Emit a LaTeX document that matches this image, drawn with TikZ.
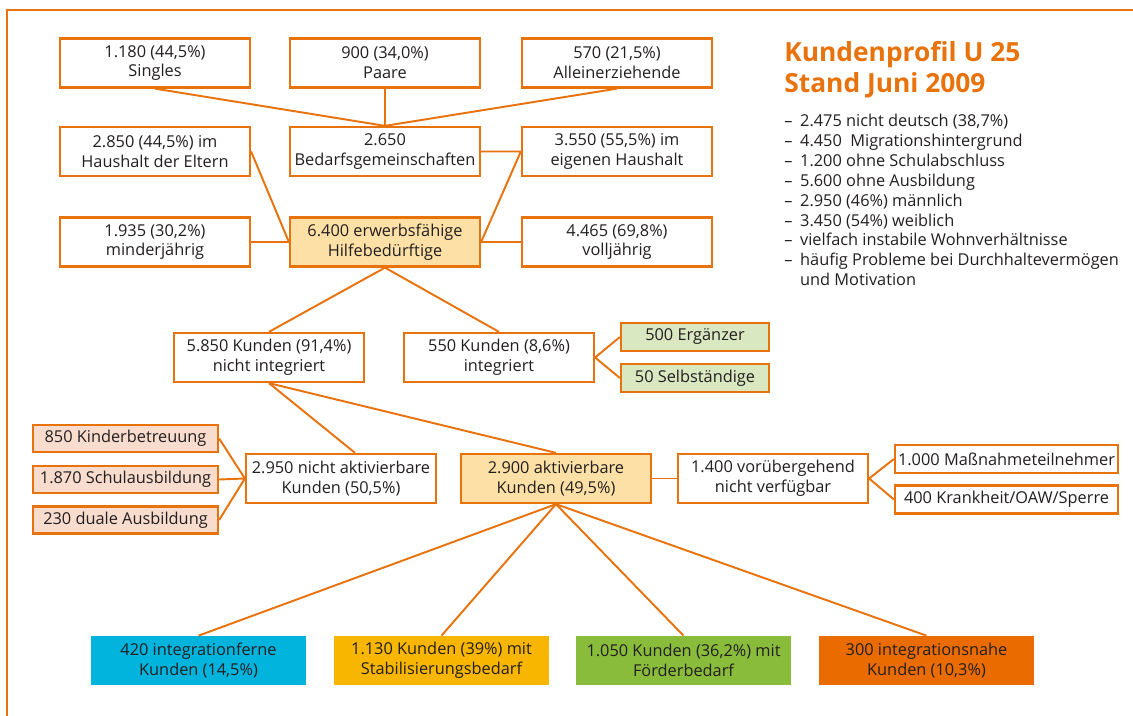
\documentclass[tikz,border=0pt]{standalone}
\usepackage{fontspec}
\setmainfont{Open Sans}
\usepackage{xcolor}
\usepackage{tikz}
\definecolor{kdorange}{RGB}{232,114,12}
\definecolor{kdtext}{RGB}{35,31,32}
\definecolor{kdcream}{RGB}{253,224,165}
\definecolor{kdrose}{RGB}{248,220,206}
\definecolor{kdmint}{RGB}{217,232,193}
\definecolor{kdcyan}{RGB}{0,180,222}
\definecolor{kdgold}{RGB}{248,182,0}
\definecolor{kdgreen}{RGB}{138,188,60}
\definecolor{kdrust}{RGB}{234,108,0}
\newcommand{\kdfont}{\fontsize{9.3pt}{11.3pt}\selectfont}
\tikzset{
wide box/.style = { rectangle, draw = kdorange, line width = 1.3pt, fill = white, text = kdtext, font = \kdfont, align = center, inner sep = 0pt, minimum width = 3.8cm, minimum height = 0.98cm },
flat box/.style = { wide box, minimum height = 0.56cm },
result box/.style = { rectangle, draw = none, fill = #1, text = kdtext, font = \kdfont, align = center, inner sep = 0pt, minimum width = 4.3cm, minimum height = 0.98cm },
link/.style = { draw = kdorange, line width = 1.1pt },
}

\begin{document}
\begin{tikzpicture}[x = 0.02cm, y = -0.02cm]
  \useasboundingbox (0, 0) rectangle (1133, 716);
  \draw[link] (7, 716) -- (7, 10) -- (1133, 10);

  % Bedarfsgemeinschaften
  \node[wide box] (singles) at (155, 63) {1.180 (44,5\%)\\Singles};
  \node[wide box] (paare) at (385, 63) {900 (34,0\%)\\Paare};
  \node[wide box] (allein) at (617, 63) {570 (21,5\%)\\Alleinerziehende};
  \node[wide box] (eltern) at (155, 151.5) {2.850 (44,5\%) im\\Haushalt der Eltern};
  \node[wide box] (bg) at (385, 151.5) {2.650\\Bedarfsgemeinschaften};
  \node[wide box] (eigen) at (617, 151.5) {3.550 (55,5\%) im\\eigenen Haushalt};
  \node[wide box] (minder) at (155, 242) {1.935 (30,2\%)\\minderjährig};
  \node[wide box, fill = kdcream] (ehb) at (385, 242) {6.400 erwerbsfähige\\Hilfebedürftige};
  \node[wide box] (voll) at (617, 242) {4.465 (69,8\%)\\volljährig};

  % Integration
  \node[wide box] (nint) at (269, 357.5) {5.850 Kunden (91,4\%)\\nicht integriert};
  \node[wide box] (integ) at (499, 357.5) {550 Kunden (8,6\%)\\integriert};
  \node[flat box, fill = kdmint, minimum width = 2.96cm] (ergaenzer) at (695, 337) {500 Ergänzer};
  \node[flat box, fill = kdmint, minimum width = 2.96cm] (selbst) at (695, 378) {50 Selbständige};

  % Aktivierung
  \node[flat box, fill = kdrose, minimum width = 3.7cm, minimum height = 0.54cm] (kinder) at (125.5, 438.5) {850 Kinderbetreuung};
  \node[flat box, fill = kdrose, minimum width = 3.7cm, minimum height = 0.54cm] (schule) at (125.5, 479.5) {1.870 Schulausbildung};
  \node[flat box, fill = kdrose, minimum width = 3.7cm, minimum height = 0.54cm] (dual) at (125.5, 520) {230 duale Ausbildung};
  \node[wide box] (nakt) at (341, 478.5) {2.950 nicht aktivierbare\\Kunden (50,5\%)};
  \node[wide box, fill = kdcream] (akt) at (556, 478.5) {2.900 aktivierbare\\Kunden (49,5\%)};
  \node[wide box] (voruebergehend) at (773, 478.5) {1.400 vorübergehend\\nicht verfügbar};
  \node[flat box, minimum width = 4.46cm] (massnahme) at (1006.5, 459) {1.000 Maßnahmeteilnehmer};
  \node[flat box, minimum width = 4.46cm] (krank) at (1006.5, 499.5) {400 Krankheit/OAW/Sperre};

  % Profillagen
  \node[result box = kdcyan] (fern) at (198.5, 660.5) {420 integrationferne\\Kunden (14,5\%)};
  \node[result box = kdgold] (stabil) at (441.5, 660.5) {1.130 Kunden (39\%) mit\\Stabilisierungsbedarf};
  \node[result box = kdgreen] (foerder) at (683.5, 660.5) {1.050 Kunden (36,2\%) mit\\Förderbedarf};
  \node[result box = kdrust] (nah) at (926.5, 660.5) {300 integrationsnahe\\Kunden (10,3\%)};

  % Kundenprofil
  \node[anchor = north west, inner sep = 0pt, text = kdorange, font = \fontsize{15pt}{17.6pt}\selectfont\bfseries, align = left] (titel) at (784, 41) {Kundenprofil U 25\\Stand Juni 2009};
  \node[anchor = north west, inner sep = 0pt, text = kdtext, font = \kdfont, align = left] (merkmale) at (784, 114) {%
    \makebox[9pt][l]{–}2.475 nicht deutsch (38,7\%)\\
    \makebox[9pt][l]{–}4.450 \ Migrationshintergrund\\
    \makebox[9pt][l]{–}1.200 ohne Schulabschluss\\
    \makebox[9pt][l]{–}5.600 ohne Ausbildung\\
    \makebox[9pt][l]{–}2.950 (46\%) männlich\\
    \makebox[9pt][l]{–}3.450 (54\%) weiblich\\
    \makebox[9pt][l]{–}vielfach instabile Wohnverhältnisse\\
    \makebox[9pt][l]{–}häufig Probleme bei Durchhaltevermögen\\
    \makebox[9pt][l]{}und Motivation};

  \draw[link] (singles.south) -- (bg.north);
  \draw[link] (paare.south) -- (bg.north);
  \draw[link] (allein.south) -- (bg.north);
  \draw[link] (bg.east) -- (eigen.west) -- (ehb.east);
  \draw[link] (eltern.east) -- (ehb.west);
  \draw[link] (minder.east) -- (ehb.west);
  \draw[link] (voll.west) -- (ehb.east);
  \draw[link] (ehb.south) -- (nint.north);
  \draw[link] (ehb.south) -- (integ.north);
  \draw[link] (integ.east) -- (ergaenzer.west);
  \draw[link] (integ.east) -- (selbst.west);
  \draw[link] (nint.south) -- ([xshift = 0.28cm]nakt.north);
  \draw[link] (nint.south) -- (akt.north);
  \draw[link] (kinder.east) -- (nakt.west);
  \draw[link] (schule.east) -- (nakt.west);
  \draw[link] (dual.east) -- (nakt.west);
  \draw[link] (akt.east) -- (voruebergehend.west);
  \draw[link] (voruebergehend.east) -- (massnahme.west);
  \draw[link] (voruebergehend.east) -- (krank.west);
  \draw[link] (akt.south) -- (fern.north);
  \draw[link] (akt.south) -- (stabil.north);
  \draw[link] (akt.south) -- (foerder.north);
  \draw[link] (akt.south) -- (nah.north);
\end{tikzpicture}
\end{document}
